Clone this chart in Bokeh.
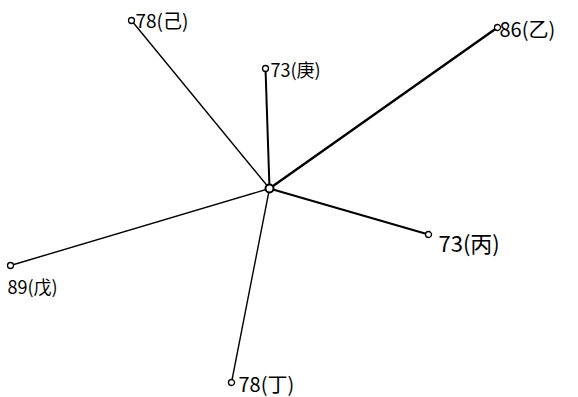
from bokeh.plotting import figure
from bokeh.models import ColumnDataSource, Range1d
from bokeh.core.properties import value
from bokeh.embed import file_html
from bokeh.resources import INLINE

# hub of the star and the six spoke ends (page units, y grows downward)
hub_x, hub_y = 269, 188
names = ["己", "庚", "乙", "丙", "戊", "丁"]
scores = [78, 73, 86, 73, 89, 78]
end_x = [131, 265, 497, 428, 10, 231]
end_y = [20, 68, 27, 234, 265, 382]
widths = [1.4, 2.0, 2.4, 2.0, 1.4, 1.4]

labels = [f"{s}({n})" for s, n in zip(scores, names)]
lab_dx = [4, 5, 2, 10, -3, 7]
lab_dy = [-1, 0, 1, 7, 20, 1]
lab_size = ["19px", "18px", "20px", "22px", "18px", "20px"]

src = ColumnDataSource(dict(
    x0=[hub_x] * len(names), y0=[hub_y] * len(names),
    x1=end_x, y1=end_y, w=widths,
    tx=[x + d for x, d in zip(end_x, lab_dx)],
    ty=[y + d for y, d in zip(end_y, lab_dy)],
    label=labels, size=lab_size,
))

p = figure(width=578, height=397, output_backend="svg", toolbar_location=None,
           x_range=Range1d(0, 578), y_range=Range1d(397, 0),
           min_border=0, outline_line_color=None)
p.axis.visible = False
p.grid.visible = False

p.segment("x0", "y0", "x1", "y1", source=src, line_color="black", line_width="w")
p.scatter("x1", "y1", source=src, size=6, fill_color="white", line_color="black", line_width=1.3)
p.scatter([hub_x], [hub_y], size=8, fill_color="white", line_color="black", line_width=2)
p.text("tx", "ty", text="label", source=src, text_font=value("Noto Sans CJK SC"),
       text_font_size="size", text_baseline="middle", text_align="left", text_color="black")

open("out.html", "w").write(file_html(p, INLINE))
